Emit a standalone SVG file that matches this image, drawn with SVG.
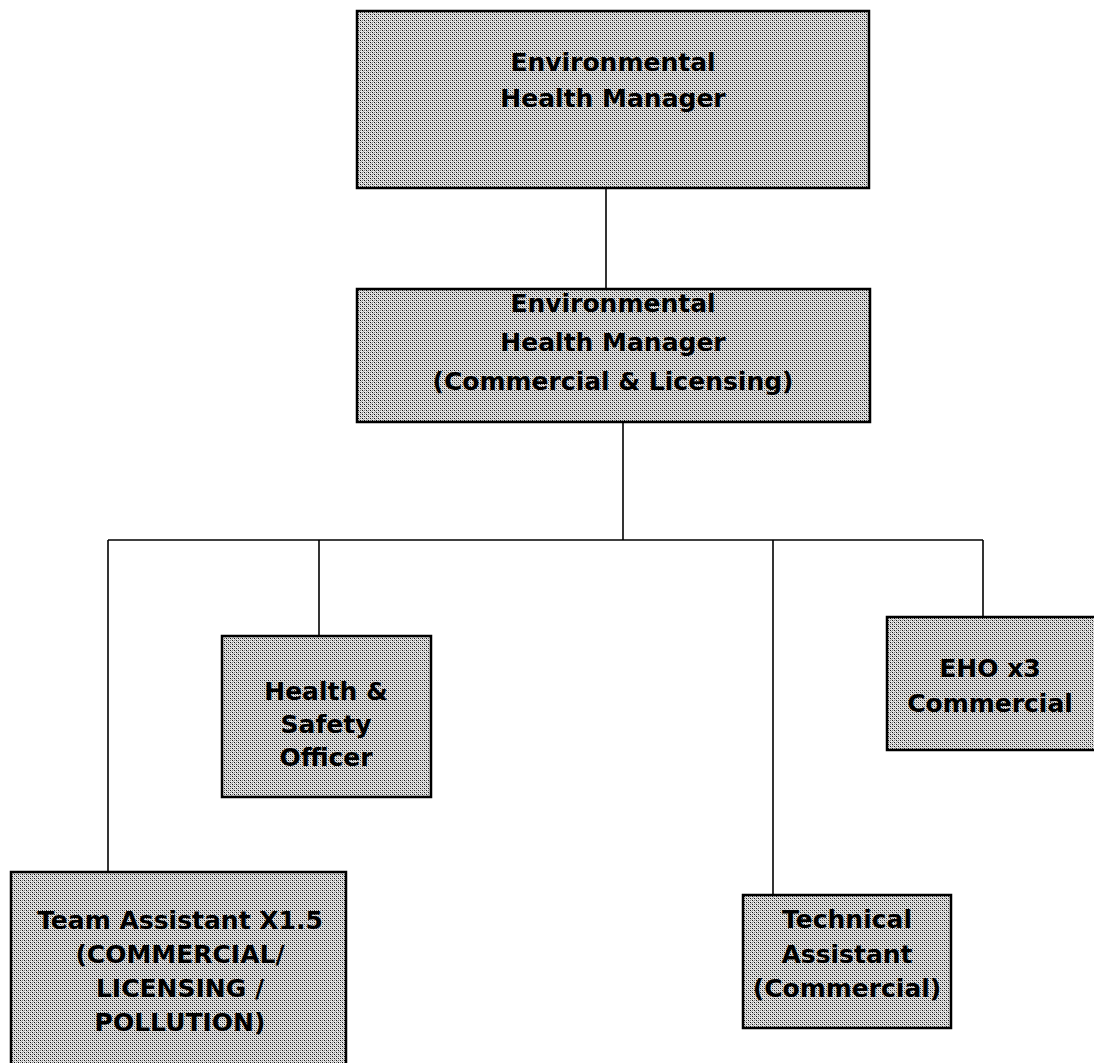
<svg xmlns="http://www.w3.org/2000/svg" width="1094" height="1063" viewBox="0 0 1094 1063">
<style>
.box{fill:url(#dither);stroke:#000;stroke-width:2.5}
.lbl{font-family:"DejaVu Sans","Liberation Sans",sans-serif;font-weight:bold;font-size:25px;fill:#000;text-anchor:middle}
.conn{stroke:#000;stroke-width:1.6;fill:none}
</style>
<defs>
<pattern id="dither" width="4" height="4" patternUnits="userSpaceOnUse">
<rect width="4" height="4" fill="#e6e6e6"/>
<rect x="0" y="0" width="1" height="1" fill="#111"/>
<rect x="2" y="2" width="1" height="1" fill="#111"/>
<rect x="2" y="0" width="1" height="1" fill="#777"/>
<rect x="0" y="2" width="1" height="1" fill="#777"/>
<rect x="1" y="1" width="1" height="1" fill="#aaa"/>
<rect x="3" y="3" width="1" height="1" fill="#aaa"/>
</pattern>
</defs>
<rect width="1094" height="1063" fill="#fff"/>
<g id="connectors">
<line class="conn" x1="606" y1="188" x2="606" y2="289"/>
<line class="conn" x1="623" y1="422" x2="623" y2="540"/>
<line class="conn" x1="108" y1="540" x2="983" y2="540"/>
<line class="conn" x1="108" y1="540" x2="108" y2="872"/>
<line class="conn" x1="319" y1="540" x2="319" y2="636"/>
<line class="conn" x1="773" y1="540" x2="773" y2="895"/>
<line class="conn" x1="983" y1="540" x2="983" y2="617"/>
</g>
<g id="ehm">
<rect class="box" x="357" y="11" width="512" height="177"/>
<text class="lbl" x="613" y="71">Environmental</text>
<text class="lbl" x="613" y="107">Health Manager</text>
</g>
<g id="ehm-cl">
<rect class="box" x="357" y="289" width="513" height="133"/>
<text class="lbl" x="613" y="312">Environmental</text>
<text class="lbl" x="613" y="351">Health Manager</text>
<text class="lbl" x="613" y="390">(Commercial &amp; Licensing)</text>
</g>
<g id="hso">
<rect class="box" x="222" y="636" width="209" height="161"/>
<text class="lbl" x="326" y="700">Health &amp;</text>
<text class="lbl" x="326" y="733">Safety</text>
<text class="lbl" x="326" y="766">Officer</text>
</g>
<g id="eho">
<rect class="box" x="887" y="617" width="212" height="133"/>
<text class="lbl" x="990" y="677">EHO x3</text>
<text class="lbl" x="990" y="712">Commercial</text>
</g>
<g id="team-assistant">
<rect class="box" x="11" y="872" width="335" height="200"/>
<text class="lbl" x="180" y="929">Team Assistant X1.5</text>
<text class="lbl" x="180" y="963">(COMMERCIAL/</text>
<text class="lbl" x="180" y="997">LICENSING /</text>
<text class="lbl" x="180" y="1031">POLLUTION)</text>
</g>
<g id="technical-assistant">
<rect class="box" x="743" y="895" width="208" height="133"/>
<text class="lbl" x="847" y="928">Technical</text>
<text class="lbl" x="847" y="963">Assistant</text>
<text class="lbl" x="847" y="997">(Commercial)</text>
</g>
</svg>
